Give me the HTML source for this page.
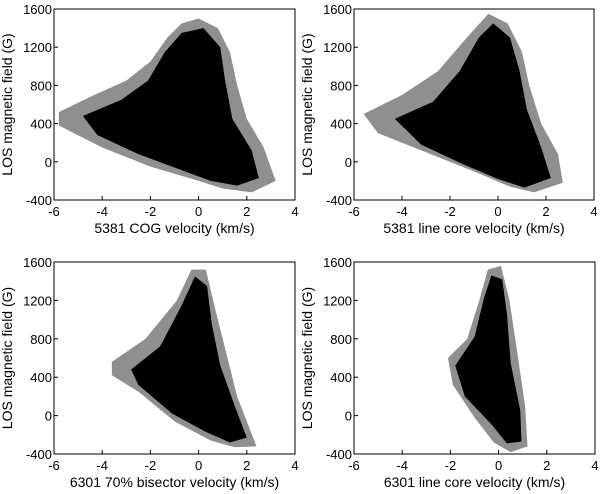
<!DOCTYPE html>
<html><head><meta charset="utf-8"><style>
html,body{margin:0;padding:0;background:#fff;}
svg{display:block;font-family:"Liberation Sans",Arial,sans-serif;}
</style></head><body>
<svg id="fig" width="600" height="494" viewBox="0 0 600 494" xmlns="http://www.w3.org/2000/svg"></svg>
<script>
const xTicks=[-6,-4,-2,0,2,4];
const yTicks=[-400,0,400,800,1200,1600];
const xTitles=["5381 COG velocity (km/s)","5381 line core velocity (km/s)","6301 70% bisector velocity (km/s)","6301 line core velocity (km/s)"];
const outerP1=[[-5.8,520],[-4.5,680],[-3,850],[-2,1050],[-1.3,1300],[-0.7,1450],[0,1500],[0.8,1400],[1.3,1150],[1.6,800],[2,450],[2.7,150],[3.2,-200],[2.2,-320],[1,-280],[0,-200],[-2,-50],[-4,150],[-5.8,380]];
const innerP1=[[-4.8,480],[-3.2,650],[-2.1,850],[-1.4,1150],[-0.7,1350],[0.2,1400],[0.9,1200],[1.1,850],[1.4,450],[2.2,120],[2.5,-170],[1.6,-250],[0.5,-200],[-1,-60],[-2.5,80],[-4.2,280]];
const outerP2=[[-5.6,500],[-4,700],[-2.5,950],[-1.3,1300],[-0.4,1550],[0.4,1450],[1,1150],[1.3,800],[1.8,400],[2.5,80],[2.7,-220],[1.5,-320],[0.5,-260],[-1,-100],[-3,100],[-5,300]];
const innerP2=[[-4.3,450],[-2.7,630],[-1.6,950],[-0.8,1300],[-0.2,1450],[0.5,1300],[0.9,950],[1.2,550],[1.8,150],[2.2,-170],[1.1,-270],[0,-180],[-1.5,-20],[-3.2,180]];
const outerP3=[[-3.6,560],[-2.2,800],[-0.9,1200],[-0.3,1520],[0.3,1520],[0.7,1100],[1.1,700],[1.6,200],[2.4,-320],[1.5,-330],[0.5,-260],[-1,-60],[-2.5,250],[-3.6,420]];
const innerP3=[[-2.8,480],[-1.6,720],[-0.7,1150],[-0.15,1450],[0.35,1350],[0.55,950],[0.9,520],[1.5,100],[2,-230],[1.3,-280],[0.3,-170],[-1.1,20],[-2.5,320]];
const outerP4=[[-2.1,600],[-1.3,800],[-0.8,1200],[-0.45,1520],[0.1,1560],[0.45,1200],[0.75,700],[1.1,100],[1.2,-320],[0.5,-380],[-0.2,-280],[-1,-20],[-1.9,320]];
const innerP4=[[-1.8,520],[-1,820],[-0.6,1230],[-0.3,1460],[0.15,1420],[0.35,1050],[0.5,550],[0.9,50],[0.95,-270],[0.35,-290],[-0.3,-90],[-1.4,200]];
const outers=[outerP1,outerP2,outerP3,outerP4];
const inners=[innerP1,innerP2,innerP3,innerP4];
const svg=document.getElementById('fig');
const NS="http://www.w3.org/2000/svg";
const boxes=[[54,295,9,200],[354,594,9,200],[54,295,262,454],[354,595,262,454]];
function mk(t,a,p){const e=document.createElementNS(NS,t);for(const k in a)e.setAttribute(k,a[k]);(p||svg).appendChild(e);return e;}
boxes.forEach((b,i)=>{
 const [L,R,T,B]=b;
 const sx=v=>L+(v+6)/10*(R-L);
 const sy=v=>B-(v+400)/2000*(B-T);
 const g=mk('g',{});
 
 
 const o=mk('polygon',{points:outers[i].map(p=>sx(p[0])+','+sy(p[1])).join(' '),fill:'#444','fill-opacity':'0.6'},g);
 
 
 const n=mk('polygon',{points:inners[i].map(p=>sx(p[0])+','+sy(p[1])).join(' '),fill:'#000'},g);
 
 
 const ax=mk('rect',{x:L,y:T,width:R-L,height:B-T,fill:'none',stroke:'#000','stroke-width':1},g);
 
 
 xTicks.forEach(v=>{
  mk('line',{x1:sx(v),x2:sx(v),y1:B,y2:B-4,stroke:'#000'},g);
  const t=mk('text',{x:sx(v),y:B+16,'font-size':13,'text-anchor':'middle'},g);t.textContent=v;
  
  
 });
 yTicks.forEach(v=>{
  mk('line',{x1:L,x2:L+4,y1:sy(v),y2:sy(v),stroke:'#000'},g);
  const t=mk('text',{x:L-2,y:sy(v)+5,'font-size':13,'text-anchor':'end'},g);t.textContent=v;
  
  
 });
 const xt=mk('text',{x:(L+R)/2,y:B+33,'font-size':14,'text-anchor':'middle'},g);xt.textContent=xTitles[i];
 
 
 const yx=L-42, yy=(T+B)/2;
 const yt=mk('text',{x:yx,y:yy,'font-size':14,'text-anchor':'middle',transform:'rotate(-90 '+yx+' '+yy+')'},g);yt.textContent='LOS magnetic field (G)';
 
 
});
</script>
</body></html>
